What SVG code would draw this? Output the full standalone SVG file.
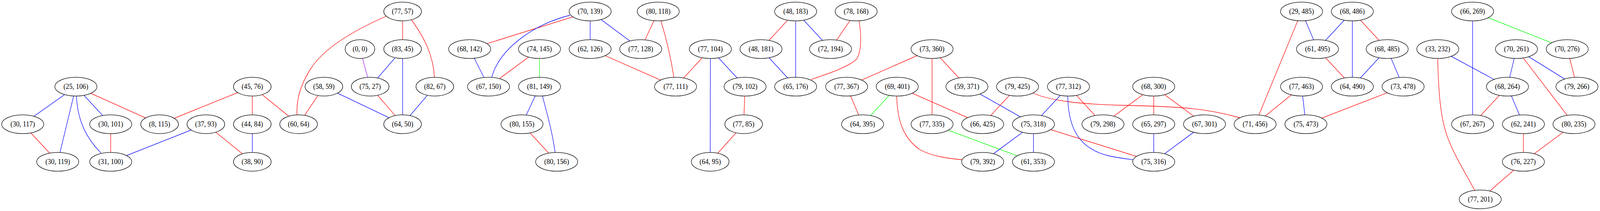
<svg xmlns="http://www.w3.org/2000/svg" width="4416" height="539" viewBox="0 0 4416 539" preserveAspectRatio="none" style="width:100vw;height:100vh;display:block">
<style>
rect.bg{fill:#ffffff}
.nodes ellipse{fill:#ffffff;stroke:#000000;stroke-width:1.33}
.nodes text{font-family:'Liberation Serif','Times New Roman',serif;font-size:18.67px;text-anchor:middle;fill:#000000}
.edges line,.edges path{fill:none;stroke-width:1.33}
.r{stroke:#ff0000}
.b{stroke:#0000ff}
.g{stroke:#00ff00}
.p{stroke:#a020f0}
</style>
<rect class="bg" x="0" y="0" width="4416" height="539"/>
<g id="edges" class="edges">
<line class="b" x1="209.5" y1="221.3" x2="62.7" y2="317.3"/>
<line class="b" x1="209.5" y1="221.3" x2="159.3" y2="413.3"/>
<path class="b" d="M211,245 C214,310 240,355 279,391"/>
<line class="b" x1="209.5" y1="221.3" x2="305.6" y2="317.3"/>
<line class="r" x1="209.5" y1="221.3" x2="440.5" y2="317.3"/>
<line class="r" x1="696.4" y1="221.3" x2="440.5" y2="317.3"/>
<line class="r" x1="696.4" y1="221.3" x2="696.4" y2="317.3"/>
<line class="r" x1="696.4" y1="221.3" x2="824.2" y2="317.3"/>
<line class="r" x1="62.7" y1="317.3" x2="159.3" y2="413.3"/>
<line class="r" x1="305.6" y1="317.3" x2="305.6" y2="413.3"/>
<line class="b" x1="568.2" y1="317.3" x2="305.6" y2="413.3"/>
<line class="r" x1="568.2" y1="317.3" x2="696.4" y2="413.3"/>
<line class="b" x1="696.4" y1="317.3" x2="696.4" y2="413.3"/>
<path class="r" d="M1067,41 C1000,68 900,115 858,175 C820,230 818,270 820,294"/>
<line class="r" x1="1111.2" y1="29.3" x2="1111.2" y2="125.3"/>
<path class="r" d="M1136,51 C1170,95 1196,140 1199,198"/>
<line class="p" x1="993.5" y1="125.3" x2="1021.7" y2="221.3"/>
<line class="b" x1="1111.2" y1="125.3" x2="1021.7" y2="221.3"/>
<line class="b" x1="1111.2" y1="125.3" x2="1111.2" y2="317.3"/>
<line class="r" x1="894" y1="221.3" x2="824.2" y2="317.3"/>
<line class="b" x1="894" y1="221.3" x2="1111.2" y2="317.3"/>
<line class="r" x1="1021.7" y1="221.3" x2="1111.2" y2="317.3"/>
<line class="b" x1="1200.1" y1="221.3" x2="1111.2" y2="317.3"/>
<line class="b" x1="1296.3" y1="125.3" x2="1348.4" y2="221.3"/>
<line class="r" x1="1628.8" y1="29.3" x2="1296.3" y2="125.3"/>
<path class="b" d="M1573,39 C1480,60 1380,120 1357,198"/>
<line class="r" x1="1489" y1="125.3" x2="1348.4" y2="221.3"/>
<line class="g" x1="1489" y1="125.3" x2="1489" y2="221.3"/>
<line class="b" x1="1489" y1="221.3" x2="1440.7" y2="317.3"/>
<line class="r" x1="1440.7" y1="317.3" x2="1536.4" y2="413.3"/>
<path class="b" d="M1497,245 C1510,290 1525,340 1532,389"/>
<line class="b" x1="1628.8" y1="29.3" x2="1628.8" y2="125.3"/>
<line class="b" x1="1628.8" y1="29.3" x2="1768.4" y2="125.3"/>
<line class="r" x1="1816.7" y1="29.3" x2="1768.4" y2="125.3"/>
<path class="r" d="M1824,53 C1838,95 1852,150 1860,198"/>
<line class="r" x1="1628.8" y1="125.3" x2="1864.6" y2="221.3"/>
<line class="r" x1="1960.7" y1="125.3" x2="1864.6" y2="221.3"/>
<line class="b" x1="1960.7" y1="125.3" x2="2056.4" y2="221.3"/>
<line class="b" x1="1960.7" y1="125.3" x2="1960.2" y2="413.3"/>
<line class="r" x1="2056.4" y1="221.3" x2="2052.5" y2="317.3"/>
<line class="r" x1="2052.5" y1="317.3" x2="1960.2" y2="413.3"/>
<line class="r" x1="2196" y1="29.3" x2="2100.4" y2="125.3"/>
<line class="b" x1="2196" y1="29.3" x2="2196" y2="221.3"/>
<line class="b" x1="2196" y1="29.3" x2="2292.2" y2="125.3"/>
<line class="b" x1="2100.4" y1="125.3" x2="2196" y2="221.3"/>
<line class="r" x1="2363" y1="29.3" x2="2292.2" y2="125.3"/>
<path class="r" d="M2371,53 C2378,90 2378,135 2363,152 C2340,172 2280,190 2239,203"/>
<line class="r" x1="2572.5" y1="125.3" x2="2336.7" y2="221.3"/>
<line class="r" x1="2572.5" y1="125.3" x2="2572.5" y2="317.3"/>
<line class="r" x1="2572.5" y1="125.3" x2="2668.7" y2="221.3"/>
<line class="r" x1="2336.7" y1="221.3" x2="2380.7" y2="317.3"/>
<line class="g" x1="2476.4" y1="221.3" x2="2380.7" y2="317.3"/>
<line class="r" x1="2476.4" y1="221.3" x2="2712.2" y2="317.3"/>
<path class="r" d="M2475,245 C2476,310 2495,355 2540,383 C2575,400 2620,405 2655,408"/>
<line class="b" x1="2668.7" y1="221.3" x2="2852.3" y2="317.3"/>
<line class="r" x1="2808.3" y1="221.3" x2="2712.2" y2="317.3"/>
<path class="r" d="M2849,237 C2900,258 2980,266 3100,269 C3250,272 3330,276 3422,301"/>
<line class="b" x1="2949" y1="221.3" x2="2852.3" y2="317.3"/>
<path class="b" d="M2947,245 C2948,330 2980,380 3060,398 C3090,404 3110,406 3127,408"/>
<line class="r" x1="2949" y1="221.3" x2="3044.2" y2="317.3"/>
<line class="g" x1="2572.5" y1="317.3" x2="2852.3" y2="413.3"/>
<line class="b" x1="2852.3" y1="317.3" x2="2712.2" y2="413.3"/>
<line class="b" x1="2852.3" y1="317.3" x2="2852.3" y2="413.3"/>
<line class="r" x1="2852.3" y1="317.3" x2="3184.3" y2="413.3"/>
<line class="r" x1="3184.3" y1="221.3" x2="3044.2" y2="317.3"/>
<line class="r" x1="3184.3" y1="221.3" x2="3184.3" y2="317.3"/>
<line class="r" x1="3184.3" y1="221.3" x2="3324.5" y2="317.3"/>
<line class="b" x1="3184.3" y1="317.3" x2="3184.3" y2="413.3"/>
<line class="b" x1="3324.5" y1="317.3" x2="3184.3" y2="413.3"/>
<line class="r" x1="3592.3" y1="29.3" x2="3464.1" y2="317.3"/>
<line class="b" x1="3592.3" y1="29.3" x2="3636.3" y2="125.3"/>
<line class="b" x1="3732.5" y1="29.3" x2="3636.3" y2="125.3"/>
<line class="r" x1="3636.3" y1="125.3" x2="3732.5" y2="221.3"/>
<line class="r" x1="3592.3" y1="221.3" x2="3464.1" y2="317.3"/>
<line class="b" x1="3592.3" y1="221.3" x2="3604.3" y2="317.3"/>
<line class="r" x1="3872.6" y1="221.3" x2="3604.3" y2="317.3"/>
<line class="b" x1="3732.5" y1="29.3" x2="3732.5" y2="221.3"/>
<line class="r" x1="3732.5" y1="29.3" x2="3828.6" y2="125.3"/>
<line class="b" x1="3828.6" y1="125.3" x2="3732.5" y2="221.3"/>
<line class="b" x1="3828.6" y1="125.3" x2="3872.6" y2="221.3"/>
<line class="b" x1="4064.4" y1="29.3" x2="4064.4" y2="317.3"/>
<line class="g" x1="4064.4" y1="29.3" x2="4325.6" y2="125.3"/>
<line class="b" x1="3968.3" y1="125.3" x2="4160.6" y2="221.3"/>
<path class="r" d="M3968,149 C3970,230 3975,300 3995,350 C4015,400 4050,450 4070,486"/>
<line class="b" x1="4185.4" y1="125.3" x2="4160.6" y2="221.3"/>
<line class="b" x1="4185.4" y1="125.3" x2="4352.4" y2="221.3"/>
<line class="r" x1="4185.4" y1="125.3" x2="4344.2" y2="317.3"/>
<line class="r" x1="4325.6" y1="125.3" x2="4352.4" y2="221.3"/>
<line class="r" x1="4160.6" y1="221.3" x2="4064.4" y2="317.3"/>
<line class="b" x1="4160.6" y1="221.3" x2="4204.6" y2="317.3"/>
<line class="r" x1="4204.6" y1="317.3" x2="4204.6" y2="413.3"/>
<line class="r" x1="4344.2" y1="317.3" x2="4204.6" y2="413.3"/>
<line class="r" x1="4204.6" y1="413.3" x2="4085.5" y2="509.3"/>
</g>
<g id="nodes" class="nodes">
<g id="n_25_106"><ellipse cx="209.5" cy="221.3" rx="58" ry="24"/><text x="209.5" y="227.5">(25, 106)</text></g>
<g id="n_30_117"><ellipse cx="62.7" cy="317.3" rx="58" ry="24"/><text x="62.7" y="323.5">(30, 117)</text></g>
<g id="n_30_101"><ellipse cx="305.6" cy="317.3" rx="58" ry="24"/><text x="305.6" y="323.5">(30, 101)</text></g>
<g id="n_8_115"><ellipse cx="440.5" cy="317.3" rx="52" ry="24"/><text x="440.5" y="323.5">(8, 115)</text></g>
<g id="n_37_93"><ellipse cx="568.2" cy="317.3" rx="52" ry="24"/><text x="568.2" y="323.5">(37, 93)</text></g>
<g id="n_44_84"><ellipse cx="696.4" cy="317.3" rx="52" ry="24"/><text x="696.4" y="323.5">(44, 84)</text></g>
<g id="n_45_76"><ellipse cx="696.4" cy="221.3" rx="52" ry="24"/><text x="696.4" y="227.5">(45, 76)</text></g>
<g id="n_30_119"><ellipse cx="159.3" cy="413.3" rx="58" ry="24"/><text x="159.3" y="419.5">(30, 119)</text></g>
<g id="n_31_100"><ellipse cx="305.6" cy="413.3" rx="58" ry="24"/><text x="305.6" y="419.5">(31, 100)</text></g>
<g id="n_38_90"><ellipse cx="696.4" cy="413.3" rx="52" ry="24"/><text x="696.4" y="419.5">(38, 90)</text></g>
<g id="n_77_57"><ellipse cx="1111.2" cy="29.3" rx="52" ry="24"/><text x="1111.2" y="35.5">(77, 57)</text></g>
<g id="n_0_0"><ellipse cx="993.5" cy="125.3" rx="41" ry="24"/><text x="993.5" y="131.5">(0, 0)</text></g>
<g id="n_83_45"><ellipse cx="1111.2" cy="125.3" rx="52" ry="24"/><text x="1111.2" y="131.5">(83, 45)</text></g>
<g id="n_68_142"><ellipse cx="1296.3" cy="125.3" rx="58" ry="24"/><text x="1296.3" y="131.5">(68, 142)</text></g>
<g id="n_74_145"><ellipse cx="1489" cy="125.3" rx="58" ry="24"/><text x="1489" y="131.5">(74, 145)</text></g>
<g id="n_58_59"><ellipse cx="894" cy="221.3" rx="52" ry="24"/><text x="894" y="227.5">(58, 59)</text></g>
<g id="n_75_27"><ellipse cx="1021.7" cy="221.3" rx="52" ry="24"/><text x="1021.7" y="227.5">(75, 27)</text></g>
<g id="n_82_67"><ellipse cx="1200.1" cy="221.3" rx="52" ry="24"/><text x="1200.1" y="227.5">(82, 67)</text></g>
<g id="n_67_150"><ellipse cx="1348.4" cy="221.3" rx="58" ry="24"/><text x="1348.4" y="227.5">(67, 150)</text></g>
<g id="n_81_149"><ellipse cx="1489" cy="221.3" rx="58" ry="24"/><text x="1489" y="227.5">(81, 149)</text></g>
<g id="n_60_64"><ellipse cx="824.2" cy="317.3" rx="52" ry="24"/><text x="824.2" y="323.5">(60, 64)</text></g>
<g id="n_64_50"><ellipse cx="1111.2" cy="317.3" rx="52" ry="24"/><text x="1111.2" y="323.5">(64, 50)</text></g>
<g id="n_80_155"><ellipse cx="1440.7" cy="317.3" rx="58" ry="24"/><text x="1440.7" y="323.5">(80, 155)</text></g>
<g id="n_70_139"><ellipse cx="1628.8" cy="29.3" rx="58" ry="24"/><text x="1628.8" y="35.5">(70, 139)</text></g>
<g id="n_80_118"><ellipse cx="1816.7" cy="29.3" rx="58" ry="24"/><text x="1816.7" y="35.5">(80, 118)</text></g>
<g id="n_48_183"><ellipse cx="2196" cy="29.3" rx="58" ry="24"/><text x="2196" y="35.5">(48, 183)</text></g>
<g id="n_62_126"><ellipse cx="1628.8" cy="125.3" rx="58" ry="24"/><text x="1628.8" y="131.5">(62, 126)</text></g>
<g id="n_77_128"><ellipse cx="1768.4" cy="125.3" rx="58" ry="24"/><text x="1768.4" y="131.5">(77, 128)</text></g>
<g id="n_77_104"><ellipse cx="1960.7" cy="125.3" rx="58" ry="24"/><text x="1960.7" y="131.5">(77, 104)</text></g>
<g id="n_48_181"><ellipse cx="2100.4" cy="125.3" rx="58" ry="24"/><text x="2100.4" y="131.5">(48, 181)</text></g>
<g id="n_77_111"><ellipse cx="1864.6" cy="221.3" rx="58" ry="24"/><text x="1864.6" y="227.5">(77, 111)</text></g>
<g id="n_79_102"><ellipse cx="2056.4" cy="221.3" rx="58" ry="24"/><text x="2056.4" y="227.5">(79, 102)</text></g>
<g id="n_65_176"><ellipse cx="2196" cy="221.3" rx="58" ry="24"/><text x="2196" y="227.5">(65, 176)</text></g>
<g id="n_77_85"><ellipse cx="2052.5" cy="317.3" rx="52" ry="24"/><text x="2052.5" y="323.5">(77, 85)</text></g>
<g id="n_80_156"><ellipse cx="1536.4" cy="413.3" rx="58" ry="24"/><text x="1536.4" y="419.5">(80, 156)</text></g>
<g id="n_64_95"><ellipse cx="1960.2" cy="413.3" rx="52" ry="24"/><text x="1960.2" y="419.5">(64, 95)</text></g>
<g id="n_78_168"><ellipse cx="2363" cy="29.3" rx="58" ry="24"/><text x="2363" y="35.5">(78, 168)</text></g>
<g id="n_72_194"><ellipse cx="2292.2" cy="125.3" rx="58" ry="24"/><text x="2292.2" y="131.5">(72, 194)</text></g>
<g id="n_73_360"><ellipse cx="2572.5" cy="125.3" rx="58" ry="24"/><text x="2572.5" y="131.5">(73, 360)</text></g>
<g id="n_77_367"><ellipse cx="2336.7" cy="221.3" rx="58" ry="24"/><text x="2336.7" y="227.5">(77, 367)</text></g>
<g id="n_69_401"><ellipse cx="2476.4" cy="221.3" rx="58" ry="24"/><text x="2476.4" y="227.5">(69, 401)</text></g>
<g id="n_59_371"><ellipse cx="2668.7" cy="221.3" rx="58" ry="24"/><text x="2668.7" y="227.5">(59, 371)</text></g>
<g id="n_79_425"><ellipse cx="2808.3" cy="221.3" rx="58" ry="24"/><text x="2808.3" y="227.5">(79, 425)</text></g>
<g id="n_77_312"><ellipse cx="2949" cy="221.3" rx="58" ry="24"/><text x="2949" y="227.5">(77, 312)</text></g>
<g id="n_64_395"><ellipse cx="2380.7" cy="317.3" rx="58" ry="24"/><text x="2380.7" y="323.5">(64, 395)</text></g>
<g id="n_77_335"><ellipse cx="2572.5" cy="317.3" rx="58" ry="24"/><text x="2572.5" y="323.5">(77, 335)</text></g>
<g id="n_66_425"><ellipse cx="2712.2" cy="317.3" rx="58" ry="24"/><text x="2712.2" y="323.5">(66, 425)</text></g>
<g id="n_75_318"><ellipse cx="2852.3" cy="317.3" rx="58" ry="24"/><text x="2852.3" y="323.5">(75, 318)</text></g>
<g id="n_79_392"><ellipse cx="2712.2" cy="413.3" rx="58" ry="24"/><text x="2712.2" y="419.5">(79, 392)</text></g>
<g id="n_61_353"><ellipse cx="2852.3" cy="413.3" rx="58" ry="24"/><text x="2852.3" y="419.5">(61, 353)</text></g>
<g id="n_29_485"><ellipse cx="3592.3" cy="29.3" rx="58" ry="24"/><text x="3592.3" y="35.5">(29, 485)</text></g>
<g id="n_68_486"><ellipse cx="3732.5" cy="29.3" rx="58" ry="24"/><text x="3732.5" y="35.5">(68, 486)</text></g>
<g id="n_61_495"><ellipse cx="3636.3" cy="125.3" rx="58" ry="24"/><text x="3636.3" y="131.5">(61, 495)</text></g>
<g id="n_68_485"><ellipse cx="3828.6" cy="125.3" rx="58" ry="24"/><text x="3828.6" y="131.5">(68, 485)</text></g>
<g id="n_68_300"><ellipse cx="3184.3" cy="221.3" rx="58" ry="24"/><text x="3184.3" y="227.5">(68, 300)</text></g>
<g id="n_77_463"><ellipse cx="3592.3" cy="221.3" rx="58" ry="24"/><text x="3592.3" y="227.5">(77, 463)</text></g>
<g id="n_64_490"><ellipse cx="3732.5" cy="221.3" rx="58" ry="24"/><text x="3732.5" y="227.5">(64, 490)</text></g>
<g id="n_73_478"><ellipse cx="3872.6" cy="221.3" rx="58" ry="24"/><text x="3872.6" y="227.5">(73, 478)</text></g>
<g id="n_79_298"><ellipse cx="3044.2" cy="317.3" rx="58" ry="24"/><text x="3044.2" y="323.5">(79, 298)</text></g>
<g id="n_65_297"><ellipse cx="3184.3" cy="317.3" rx="58" ry="24"/><text x="3184.3" y="323.5">(65, 297)</text></g>
<g id="n_67_301"><ellipse cx="3324.5" cy="317.3" rx="58" ry="24"/><text x="3324.5" y="323.5">(67, 301)</text></g>
<g id="n_71_456"><ellipse cx="3464.1" cy="317.3" rx="58" ry="24"/><text x="3464.1" y="323.5">(71, 456)</text></g>
<g id="n_75_473"><ellipse cx="3604.3" cy="317.3" rx="58" ry="24"/><text x="3604.3" y="323.5">(75, 473)</text></g>
<g id="n_75_316"><ellipse cx="3184.3" cy="413.3" rx="58" ry="24"/><text x="3184.3" y="419.5">(75, 316)</text></g>
<g id="n_66_269"><ellipse cx="4064.4" cy="29.3" rx="58" ry="24"/><text x="4064.4" y="35.5">(66, 269)</text></g>
<g id="n_33_232"><ellipse cx="3968.3" cy="125.3" rx="58" ry="24"/><text x="3968.3" y="131.5">(33, 232)</text></g>
<g id="n_70_261"><ellipse cx="4185.4" cy="125.3" rx="58" ry="24"/><text x="4185.4" y="131.5">(70, 261)</text></g>
<g id="n_70_276"><ellipse cx="4325.6" cy="125.3" rx="58" ry="24"/><text x="4325.6" y="131.5">(70, 276)</text></g>
<g id="n_68_264"><ellipse cx="4160.6" cy="221.3" rx="58" ry="24"/><text x="4160.6" y="227.5">(68, 264)</text></g>
<g id="n_79_266"><ellipse cx="4352.4" cy="221.3" rx="58" ry="24"/><text x="4352.4" y="227.5">(79, 266)</text></g>
<g id="n_67_267"><ellipse cx="4064.4" cy="317.3" rx="58" ry="24"/><text x="4064.4" y="323.5">(67, 267)</text></g>
<g id="n_62_241"><ellipse cx="4204.6" cy="317.3" rx="58" ry="24"/><text x="4204.6" y="323.5">(62, 241)</text></g>
<g id="n_80_235"><ellipse cx="4344.2" cy="317.3" rx="58" ry="24"/><text x="4344.2" y="323.5">(80, 235)</text></g>
<g id="n_76_227"><ellipse cx="4204.6" cy="413.3" rx="58" ry="24"/><text x="4204.6" y="419.5">(76, 227)</text></g>
<g id="n_77_201"><ellipse cx="4085.5" cy="509.3" rx="58" ry="24"/><text x="4085.5" y="515.5">(77, 201)</text></g>
</g>
</svg>
